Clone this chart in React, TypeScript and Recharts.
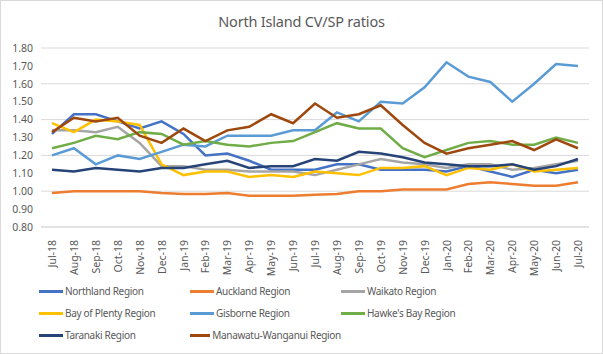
import { LineChart, Line, XAxis, YAxis, CartesianGrid } from 'recharts';

const months = [
  'Jul-18', 'Aug-18', 'Sep-18', 'Oct-18', 'Nov-18', 'Dec-18', 'Jan-19', 'Feb-19', 'Mar-19',
  'Apr-19', 'May-19', 'Jun-19', 'Jul-19', 'Aug-19', 'Sep-19', 'Oct-19', 'Nov-19', 'Dec-19',
  'Jan-20', 'Feb-20', 'Mar-20', 'Apr-20', 'May-20', 'Jun-20', 'Jul-20',
];

const northland = [1.32, 1.43, 1.43, 1.39, 1.35, 1.39, 1.32, 1.20, 1.21, 1.17, 1.12, 1.12, 1.12, 1.15, 1.15, 1.12, 1.12, 1.12, 1.11, 1.14, 1.11, 1.08, 1.12, 1.10, 1.12];
const auckland = [0.99, 1.0, 1.0, 1.0, 1.0, 0.99, 0.985, 0.985, 0.99, 0.975, 0.975, 0.975, 0.98, 0.985, 1.0, 1.0, 1.01, 1.01, 1.01, 1.04, 1.05, 1.04, 1.03, 1.03, 1.05];
const waikato = [1.34, 1.34, 1.33, 1.36, 1.27, 1.14, 1.14, 1.12, 1.12, 1.11, 1.11, 1.11, 1.09, 1.12, 1.15, 1.18, 1.16, 1.15, 1.13, 1.15, 1.15, 1.12, 1.13, 1.15, 1.17];
const bayOfPlenty = [1.38, 1.33, 1.40, 1.39, 1.37, 1.15, 1.09, 1.11, 1.11, 1.08, 1.09, 1.08, 1.11, 1.10, 1.09, 1.13, 1.13, 1.14, 1.09, 1.13, 1.12, 1.15, 1.11, 1.12, 1.13];
const gisborne = [1.20, 1.24, 1.15, 1.20, 1.18, 1.22, 1.26, 1.25, 1.31, 1.31, 1.31, 1.34, 1.34, 1.44, 1.39, 1.50, 1.49, 1.58, 1.72, 1.64, 1.61, 1.50, 1.60, 1.71, 1.70];
const hawkesBay = [1.24, 1.27, 1.31, 1.29, 1.33, 1.32, 1.26, 1.28, 1.26, 1.25, 1.27, 1.28, 1.33, 1.38, 1.35, 1.35, 1.24, 1.19, 1.23, 1.27, 1.28, 1.26, 1.26, 1.30, 1.27];
const taranaki = [1.12, 1.11, 1.13, 1.12, 1.11, 1.13, 1.13, 1.15, 1.17, 1.13, 1.14, 1.14, 1.18, 1.17, 1.22, 1.21, 1.19, 1.16, 1.15, 1.14, 1.14, 1.15, 1.12, 1.14, 1.18];
const manawatu = [1.33, 1.41, 1.39, 1.41, 1.31, 1.27, 1.35, 1.28, 1.34, 1.36, 1.43, 1.38, 1.49, 1.41, 1.43, 1.48, 1.37, 1.27, 1.21, 1.24, 1.26, 1.28, 1.23, 1.29, 1.24];

const yTicks = [0.8, 0.9, 1.0, 1.1, 1.2, 1.3, 1.4, 1.5, 1.6, 1.7, 1.8];

const series = [
  { key: 'northland', name: 'Northland Region', color: '#4472C4', values: northland },
  { key: 'auckland', name: 'Auckland Region', color: '#ED7D31', values: auckland },
  { key: 'waikato', name: 'Waikato Region', color: '#A5A5A5', values: waikato },
  { key: 'bop', name: 'Bay of Plenty Region', color: '#FFC000', values: bayOfPlenty },
  { key: 'gisborne', name: 'Gisborne Region', color: '#5B9BD5', values: gisborne },
  { key: 'hawkes', name: "Hawke's Bay Region", color: '#70AD47', values: hawkesBay },
  { key: 'taranaki', name: 'Taranaki Region', color: '#264478', values: taranaki },
  { key: 'manawatu', name: 'Manawatu-Wanganui Region', color: '#9E480E', values: manawatu },
];

const data = months.map((m, i) => {
  const row: Record<string, string | number> = { month: m };
  series.forEach((s) => {
    row[s.key] = s.values[i];
  });
  return row;
});

const font = '"Noto Sans", sans-serif';
const textColor = '#595959';

function MonthTick(props: any) {
  const { x, y, payload } = props;
  return (
    <text
      x={0}
      y={0}
      transform={`translate(${x + 4},${y + 5}) rotate(-90)`}
      textAnchor="end"
      fontSize={10.5}
      fill={textColor}
      fontFamily={font}
    >
      {payload.value}
    </text>
  );
}

export default function App() {
  return (
    <div
      style={{
        position: 'absolute',
        left: 0,
        top: 0,
        width: 601,
        height: 352,
        border: '1px solid #D9D9D9',
        background: '#fff',
        fontFamily: font,
      }}
    >
      <div
        style={{
          position: 'absolute',
          top: 10,
          left: 0,
          width: '100%',
          textAlign: 'center',
          fontSize: 14.5,
          letterSpacing: -0.2,
          color: textColor,
        }}
      >
        North Island CV/SP ratios
      </div>
      <LineChart
        width={601}
        height={352}
        data={data}
        margin={{ top: 47, right: 13, bottom: 76, left: -1 }}
      >
        <CartesianGrid vertical={false} stroke="#D9D9D9" />
        <XAxis
          dataKey="month"
          interval={0}
          padding={{ left: 11, right: 11 }}
          tick={<MonthTick />}
          tickLine={false}
          axisLine={{ stroke: '#D9D9D9' }}
          height={50}
        />
        <YAxis
          domain={[0.8, 1.8]}
          ticks={yTicks}
          tickFormatter={(v: number) => v.toFixed(2)}
          axisLine={false}
          tickLine={false}
          width={41}
          tick={{ fontSize: 10.5, fill: textColor, fontFamily: font }}
        />
        {series.map((s) => (
          <Line
            key={s.key}
            type="linear"
            dataKey={s.key}
            name={s.name}
            stroke={s.color}
            strokeWidth={2.5}
            dot={false}
            isAnimationActive={false}
          />
        ))}
      </LineChart>
      <div
        style={{
          position: 'absolute',
          left: 38,
          top: 281,
          width: 460,
          display: 'grid',
          gridTemplateColumns: '151px 151px 151px',
          rowGap: 4,
          fontSize: 10,
          letterSpacing: -0.3,
          color: textColor,
        }}
      >
        {series.map((s) => (
          <div key={s.key} style={{ display: 'flex', alignItems: 'center', height: 18, whiteSpace: 'nowrap' }}>
            <span style={{ display: 'inline-block', width: 24, height: 3, background: s.color, marginRight: 2 }} />
            <span>{s.name}</span>
          </div>
        ))}
      </div>
    </div>
  );
}
